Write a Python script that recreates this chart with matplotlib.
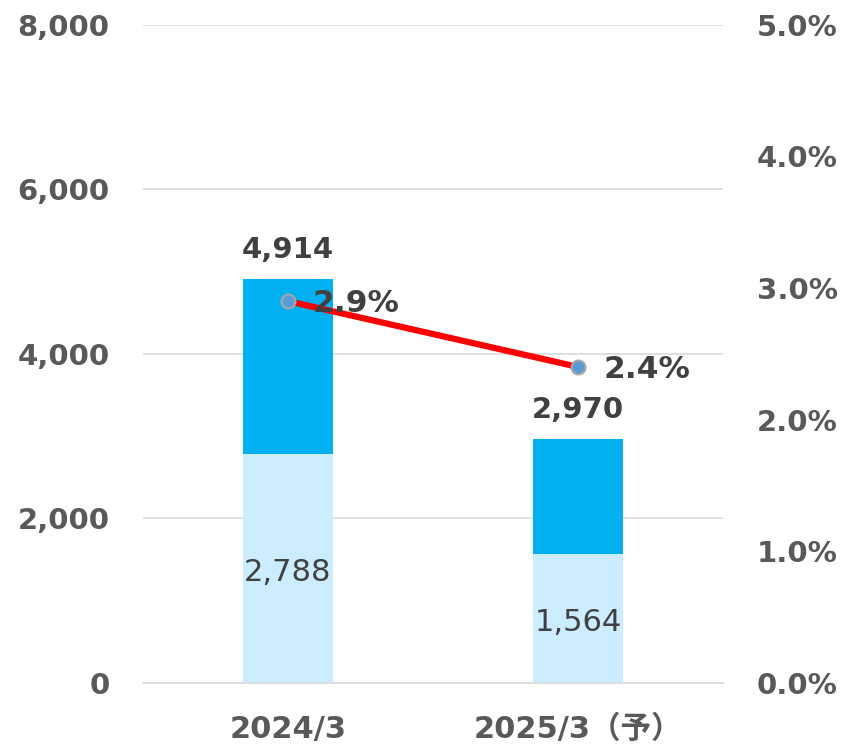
import matplotlib.pyplot as plt
from matplotlib.ticker import FuncFormatter

plt.rcParams['font.family'] = ['DejaVu Sans', 'Noto Sans CJK JP']

categories = ['2024/3', '2025/3（予）']
lower_vals = [2788, 1564]
total_vals = [4914, 2970]
upper_vals = [t - l for t, l in zip(total_vals, lower_vals)]
ratio_vals = [2.9, 2.4]

fig = plt.figure(figsize=(8.5, 7.48), dpi=100)
ax = fig.add_axes([0.168, 0.087, 0.683, 0.88])
x = list(range(len(categories)))

ax.bar(x, lower_vals, width=0.31, color='#CCECFF', zorder=2)
ax.bar(x, upper_vals, width=0.31, bottom=lower_vals, color='#00B0F0', zorder=2)

ax.set_xlim(-0.5, 1.5)
ax.set_ylim(0, 8000)
ax.set_yticks(range(0, 8001, 2000))
ax.yaxis.set_major_formatter(FuncFormatter(lambda v, p: f'{int(v):,}'))
ax.grid(axis='y', color='#D9D9D9', linewidth=1.2, zorder=0)
for s in ['top', 'right', 'left']:
    ax.spines[s].set_visible(False)
ax.spines['bottom'].set_color('#D9D9D9')
ax.spines['bottom'].set_linewidth(1.2)
ax.tick_params(length=0, labelsize=21, labelcolor='#595959')
ax.tick_params(axis='x', labelsize=22, pad=23)
ax.tick_params(axis='y', pad=24)
ax.set_xticks(x)
ax.set_xticklabels(categories, fontweight='bold')
for lbl in ax.get_yticklabels():
    lbl.set_fontweight('bold')

for i in x:
    ax.text(i, total_vals[i] + 180, f'{total_vals[i]:,}', ha='center', va='bottom',
            fontsize=21, fontweight='bold', color='#404040')
    ax.text(i, lower_vals[i] / 2 - 50, f'{lower_vals[i]:,}', ha='center', va='center',
            fontsize=22, color='#404040')

ax2 = ax.twinx()
ax2.set_ylim(0, 5)
ax2.set_yticks([0, 1, 2, 3, 4, 5])
ax2.yaxis.set_major_formatter(FuncFormatter(lambda v, p: f'{v:.1f}%'))
for s in ax2.spines.values():
    s.set_visible(False)
ax2.tick_params(length=0, labelsize=21, labelcolor='#595959', pad=24)
for lbl in ax2.get_yticklabels():
    lbl.set_fontweight('bold')
ax2.plot(x, ratio_vals, color='#FF0000', linewidth=4.5, marker='o', markersize=10,
         markerfacecolor='#5B9BD5', markeredgecolor='#A6A6A6', markeredgewidth=1.5, zorder=3)
for i in x:
    ax2.annotate(f'{ratio_vals[i]}%', (i, ratio_vals[i]), xytext=(18, -2), textcoords='offset points',
                 ha='left', va='center', fontsize=22.5, fontweight='bold', color='#404040')

fig.savefig('out.png', dpi=100)
